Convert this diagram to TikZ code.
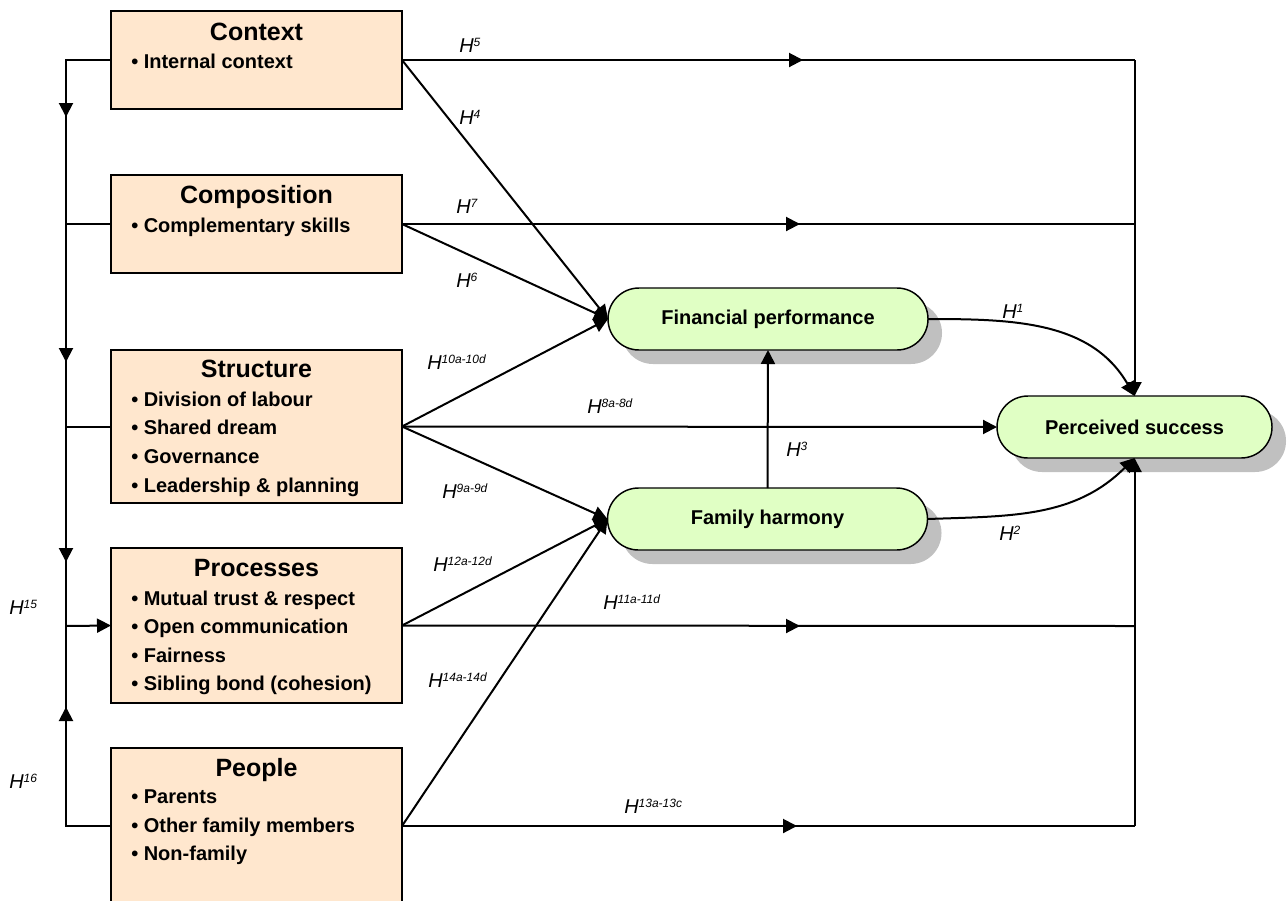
\documentclass[tikz,border=0pt]{standalone}
\usepackage{fontspec}
\setmainfont{Liberation Sans}
\usetikzlibrary{arrows.meta,shadows}
\definecolor{boxfill}{HTML}{FFE7CE}
\definecolor{ovalfill}{HTML}{E0FFC4}
\definecolor{shade}{HTML}{C0C0C0}
% hypothesis label: italic H with a small raised index
\newcommand{\hyptext}[1]{H\raisebox{4pt}{\fontsize{9}{9}\selectfont #1}}
\begin{document}
\begin{tikzpicture}[x=0.75pt,y=-0.75pt,
  box/.style={draw, line width=1.5pt, fill=boxfill, inner sep=0pt, outer sep=0pt, minimum width=218.25pt},
  oval/.style={draw, line width=1.1pt, fill=ovalfill, rounded corners=23.25pt, inner sep=0pt, outer sep=0pt,
    minimum height=46.5pt, font=\fontsize{15}{18}\selectfont\bfseries,
    drop shadow={shadow xshift=10.5pt, shadow yshift=-10.5pt, opacity=1, fill=shade}},
  title/.style={anchor=base, font=\fontsize{18.75}{22}\selectfont\bfseries, inner sep=0pt},
  item/.style={anchor=base west, font=\fontsize{15}{18}\selectfont\bfseries, inner sep=0pt},
  hyp/.style={anchor=base west, inner sep=0pt, font=\fontsize{15}{18}\selectfont\itshape},
  link/.style={line width=1.5pt},
  arr/.style={line width=1.5pt, -{Triangle[length=10.5pt,width=10.5pt]}},
]
\useasboundingbox (0,0) rectangle (1287,900);

% ---- antecedent boxes ----
\node[box, minimum height=73.5pt] (ctx) at (256.5,60) {};
\node[title] (ctxT) at (256.5,40) {Context};
\node[item] (ctx1) at (131,68) {• Internal context};

\node[box, minimum height=73.5pt] (cmp) at (256.5,224) {};
\node[title] (cmpT) at (256.5,203) {Composition};
\node[item] (cmp1) at (131,232) {• Complementary skills};

\node[box, minimum height=114.75pt] (str) at (256.5,426.5) {};
\node[title] (strT) at (256.5,377) {Structure};
\node[item] (str1) at (131,406) {• Division of labour};
\node[item] (str2) at (131,434.5) {• Shared dream};
\node[item] (str3) at (131,463) {• Governance};
\node[item] (str4) at (131,492) {• Leadership \& planning};

\node[box, minimum height=116.25pt] (prc) at (256.5,625.5) {};
\node[title] (prcT) at (256.5,576) {Processes};
\node[item] (prc1) at (131,605) {• Mutual trust \& respect};
\node[item] (prc2) at (131,633) {• Open communication};
\node[item] (prc3) at (131,662) {• Fairness};
\node[item] (prc4) at (131,690) {• Sibling bond (cohesion)};

\node[box, minimum height=118.5pt] (ppl) at (256.5,827) {};
\node[title] (pplT) at (256.5,776) {People};
\node[item] (ppl1) at (131,803) {• Parents};
\node[item] (ppl2) at (131,832) {• Other family members};
\node[item] (ppl3) at (131,860) {• Non-family};
\coordinate (pplL) at (111,826);
\coordinate (pplR) at (402,826);

% ---- outcome ovals ----
\node[oval, minimum width=240pt] (fp) at (768,319) {Financial performance};
\node[oval, minimum width=240pt] (fh) at (767.5,519) {Family harmony};
\node[oval, minimum width=206.25pt] (ps) at (1134.5,427) {Perceived success};

% ---- left feedback trunk ----
\coordinate (l1) at (66,60);
\coordinate (l2) at (66,224);
\coordinate (l3) at (66,426.5);
\coordinate (l4) at (66,626);
\coordinate (l5) at (66,826);
\draw[link] (ctx.west) -- (l1) -- (l4);
\draw[link] (cmp.west) -- (l2);
\draw[link] (str.west) -- (l3);
\draw[arr] (l4) -- (prc.west);
\draw[link] (pplL) -- (l5) -- (l4);
\draw[arr] (66,90) -- (66,117);
\draw[arr] (66,330) -- (66,362);
\draw[arr] (66,530) -- (66,562);
\draw[arr] (66,740) -- (66,707);

% ---- right collector lines ----
\coordinate (r1) at (1134.5,60);
\coordinate (r2) at (1134.5,224);
\coordinate (r3) at (1134.5,626);
\coordinate (r4) at (1134.5,826);
\draw[link] (ctx.east) -- (r1);
\draw[arr] (r1) -- (ps.north);
\draw[link] (cmp.east) -- (r2);
\draw[link] (prc.east) -- (r3);
\draw[link] (pplR) -- (r4);
\draw[arr] (r4) -- (ps.south);
\draw[arr] (760,60) -- (803,60);
\draw[arr] (760,224) -- (800,224);
\draw[arr] (760,626) -- (800,626);
\draw[arr] (760,826) -- (797,826);

% ---- direct effects on the ovals ----
\draw[arr] (ctx.east) -- (fp.west);
\draw[arr] (cmp.east) -- (fp.west);
\draw[arr] (str.east) -- (fp.west);
\draw[arr] (str.east) -- (ps.west);
\draw[arr] (str.east) -- (fh.west);
\draw[arr] (prc.east) -- (fh.west);
\draw[arr] (pplR) -- (fh.west);
\draw[arr] (fh.north) -- (fp.south);
\draw[arr] (fp.east) to[out=0,in=120] (ps.north);
\draw[arr] (fh.east) to[out=2,in=-135] (ps.south);

% ---- hypothesis labels ----
\node[hyp] (h5) at (459,52) {\hyptext{5}};
\node[hyp] (h4) at (459,124) {\hyptext{4}};
\node[hyp] (h7) at (456,213) {\hyptext{7}};
\node[hyp] (h6) at (456,287) {\hyptext{6}};
\node[hyp] (h10) at (427,369) {\hyptext{10a-10d}};
\node[hyp] (h8) at (587,413) {\hyptext{8a-8d}};
\node[hyp] (h9) at (442,498) {\hyptext{9a-9d}};
\node[hyp] (h12) at (433,571) {\hyptext{12a-12d}};
\node[hyp] (h11) at (603,609) {\hyptext{11a-11d}};
\node[hyp] (h14) at (428,687) {\hyptext{14a-14d}};
\node[hyp] (h13) at (624,813) {\hyptext{13a-13c}};
\node[hyp] (h3) at (786,456) {\hyptext{3}};
\node[hyp] (h1) at (1002,318) {\hyptext{1}};
\node[hyp] (h2) at (999,540) {\hyptext{2}};
\node[hyp] (h15) at (9,614) {\hyptext{15}};
\node[hyp] (h16) at (9,788) {\hyptext{16}};
\end{tikzpicture}
\end{document}
